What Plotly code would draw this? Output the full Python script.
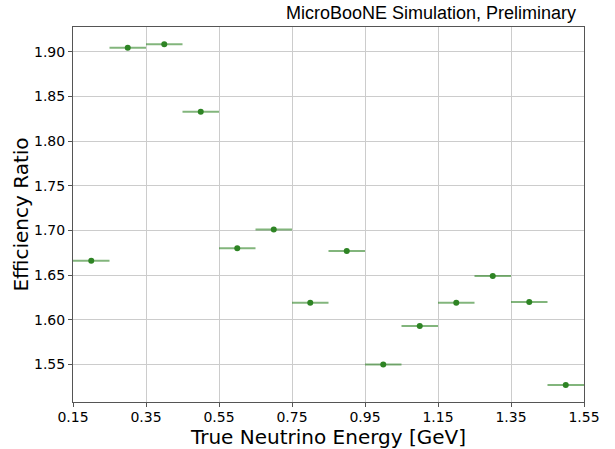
import plotly.graph_objects as go

energy = [0.2, 0.3, 0.4, 0.5, 0.6, 0.7, 0.8, 0.9, 1.0, 1.1, 1.2, 1.3, 1.4, 1.5]
ratio = [1.666, 1.9045, 1.9085, 1.833, 1.680, 1.701, 1.619, 1.677, 1.550, 1.593, 1.619, 1.649, 1.620, 1.527]
half_width = [0.05] * len(energy)

x_ticks = [0.15, 0.35, 0.55, 0.75, 0.95, 1.15, 1.35, 1.55]
y_ticks = [1.55, 1.60, 1.65, 1.70, 1.75, 1.80, 1.85, 1.90]

fig = go.Figure()
fig.add_trace(go.Scatter(
    x=energy, y=ratio, mode="markers",
    marker=dict(color="#2e8424", size=6),
    error_x=dict(type="data", array=half_width, visible=True, width=0,
                 thickness=2, color="rgba(46,132,36,0.6)"),
    showlegend=False,
))

fig.update_layout(
    width=615, height=449,
    margin=dict(l=73, r=31, t=27, b=47),
    paper_bgcolor="white", plot_bgcolor="white",
    font=dict(family="DejaVu Sans", size=14, color="black"),
    annotations=[dict(
        text="MicroBooNE Simulation, Preliminary", xref="paper", yref="paper",
        x=1, y=1, xanchor="right", yanchor="bottom", xshift=-6, yshift=2,
        showarrow=False, font=dict(family="Liberation Sans", size=18, color="black"),
    )],
)
fig.update_xaxes(
    range=[0.15, 1.55], tickvals=x_ticks, ticktext=[f"{v:.2f}" for v in x_ticks],
    showgrid=True, gridcolor="#cccccc", gridwidth=1,
    showline=True, linecolor="#555555", linewidth=1, mirror=True,
    ticks="outside", ticklen=4, tickcolor="#555555", ticklabelstandoff=-2,
    title=dict(text="True Neutrino Energy [GeV]", font=dict(size=20), standoff=0),
    zeroline=False, automargin=False,
)
fig.update_yaxes(
    range=[1.5079, 1.9278], tickvals=y_ticks, ticktext=[f"{v:.2f}" for v in y_ticks],
    showgrid=True, gridcolor="#cccccc", gridwidth=1,
    showline=True, linecolor="#555555", linewidth=1, mirror=True,
    ticks="outside", ticklen=4, tickcolor="#555555",
    title=dict(text="Efficiency Ratio", font=dict(size=20), standoff=0),
    zeroline=False, automargin=False,
)

fig.write_html("out.html")
